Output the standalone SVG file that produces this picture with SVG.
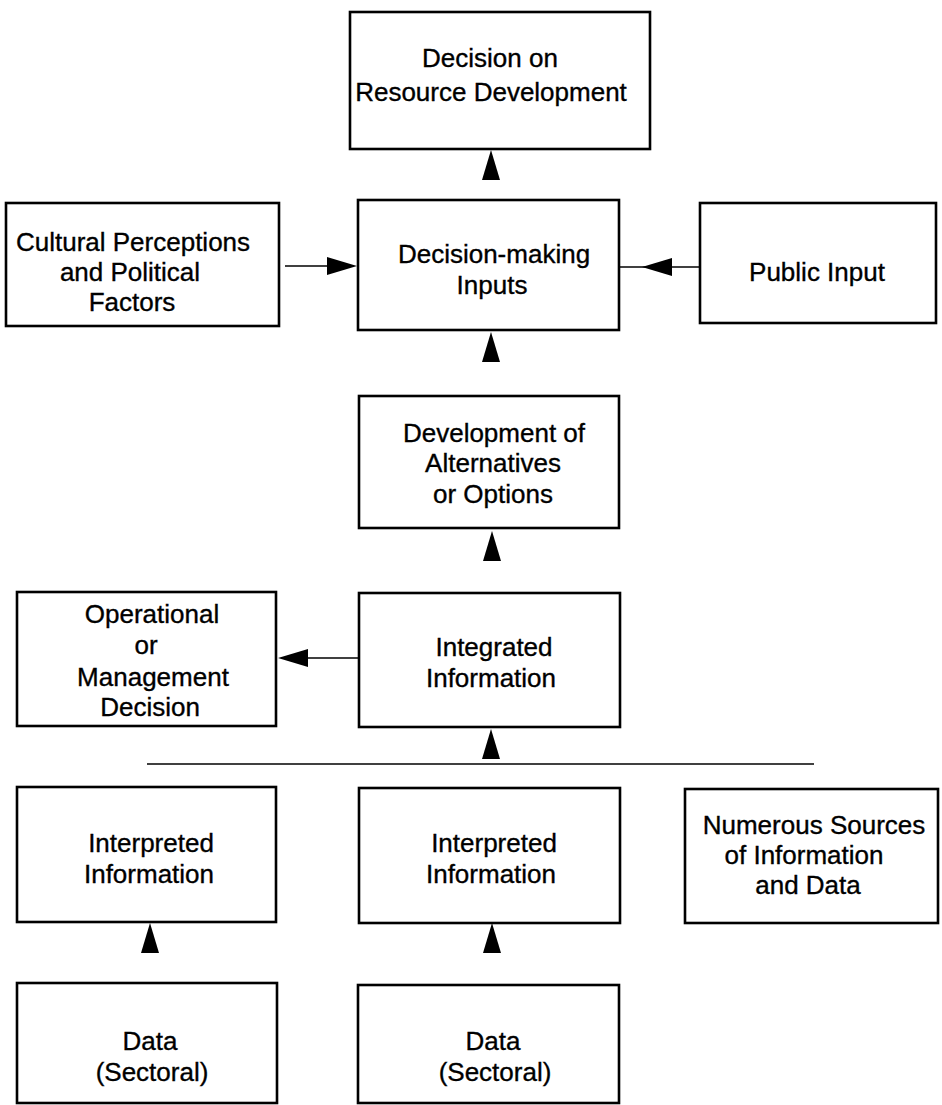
<svg xmlns="http://www.w3.org/2000/svg" xmlns:xlink="http://www.w3.org/1999/xlink" width="942" height="1105" viewBox="0 0 942 1105">
  <style>
    .box { fill: #ffffff; stroke: #000000; stroke-width: 2.6; }
    .lbl { font-family: "Liberation Sans", Arial, sans-serif; font-size: 26px; fill: #000000; stroke: #000000; stroke-width: 0.35; text-anchor: middle; }
    .wire { stroke: #000000; stroke-width: 1.4; fill: none; }
    .head { fill: #000000; stroke: none; }
  </style>
  <defs>
    <!-- filled arrowhead, tip at origin, pointing up -->
    <path id="tri" class="head" d="M0,0 L-9,30 L9,30 Z"/>
  </defs>
  <rect width="942" height="1105" fill="#ffffff"/>

  <g id="decision-resource">
    <rect class="box" x="350" y="12" width="300" height="137"/>
    <text class="lbl" x="490" y="67">Decision on</text>
    <text class="lbl" x="491" y="101">Resource Development</text>
  </g>

  <g id="cultural-political">
    <rect class="box" x="6" y="203" width="273" height="123"/>
    <text class="lbl" x="133" y="251">Cultural Perceptions</text>
    <text class="lbl" x="130" y="281">and Political</text>
    <text class="lbl" x="132" y="311">Factors</text>
  </g>

  <g id="decision-inputs">
    <rect class="box" x="358" y="200" width="261" height="130"/>
    <text class="lbl" x="494" y="263">Decision-making</text>
    <text class="lbl" x="492" y="294">Inputs</text>
  </g>

  <g id="public-input">
    <rect class="box" x="700" y="203" width="236" height="120"/>
    <text class="lbl" x="817" y="281">Public Input</text>
  </g>

  <g id="alternatives">
    <rect class="box" x="359" y="396" width="260" height="132"/>
    <text class="lbl" x="494" y="442">Development of</text>
    <text class="lbl" x="493" y="472">Alternatives</text>
    <text class="lbl" x="493" y="503">or Options</text>
  </g>

  <g id="operational">
    <rect class="box" x="17" y="592" width="259" height="134"/>
    <text class="lbl" x="152" y="623">Operational</text>
    <text class="lbl" x="146" y="654">or</text>
    <text class="lbl" x="153" y="686">Management</text>
    <text class="lbl" x="150" y="716">Decision</text>
  </g>

  <g id="integrated">
    <rect class="box" x="359" y="593" width="261" height="134"/>
    <text class="lbl" x="494" y="656">Integrated</text>
    <text class="lbl" x="491" y="687">Information</text>
  </g>

  <g id="interpreted-1">
    <rect class="box" x="17" y="787" width="259" height="135"/>
    <text class="lbl" x="151" y="852">Interpreted</text>
    <text class="lbl" x="149" y="883">Information</text>
  </g>

  <g id="interpreted-2">
    <rect class="box" x="359" y="788" width="261" height="135"/>
    <text class="lbl" x="494" y="852">Interpreted</text>
    <text class="lbl" x="491" y="883">Information</text>
  </g>

  <g id="numerous-sources">
    <rect class="box" x="685" y="789" width="253" height="134"/>
    <text class="lbl" x="814" y="834">Numerous Sources</text>
    <text class="lbl" x="804" y="864">of Information</text>
    <text class="lbl" x="808" y="894">and Data</text>
  </g>

  <g id="data-1">
    <rect class="box" x="17" y="983" width="260" height="120"/>
    <text class="lbl" x="150" y="1050">Data</text>
    <text class="lbl" x="152" y="1081">(Sectoral)</text>
  </g>

  <g id="data-2">
    <rect class="box" x="358" y="985" width="261" height="118"/>
    <text class="lbl" x="493" y="1050">Data</text>
    <text class="lbl" x="495" y="1081">(Sectoral)</text>
  </g>

  <g id="connectors">
    <!-- vertical flow: bare arrowheads between stacked boxes -->
    <use xlink:href="#tri" transform="translate(491,150)"/>
    <use xlink:href="#tri" transform="translate(491,332)"/>
    <use xlink:href="#tri" transform="translate(492,531)"/>
    <use xlink:href="#tri" transform="translate(491,729)"/>
    <use xlink:href="#tri" transform="translate(150,923)"/>
    <use xlink:href="#tri" transform="translate(492,923)"/>

    <!-- cultural factors into decision-making inputs -->
    <line class="wire" x1="285" y1="266" x2="330" y2="266"/>
    <use xlink:href="#tri" transform="translate(357,266) rotate(90)"/>

    <!-- public input into decision-making inputs -->
    <line class="wire" x1="619" y1="267" x2="700" y2="267"/>
    <use xlink:href="#tri" transform="translate(642,267) rotate(-90)"/>

    <!-- integrated information out to operational decision -->
    <line class="wire" x1="305" y1="658" x2="359" y2="658"/>
    <use xlink:href="#tri" transform="translate(278,658) rotate(-90)"/>

    <!-- collector line above the information sources -->
    <line class="wire" x1="147" y1="764" x2="814" y2="764"/>
  </g>
</svg>
